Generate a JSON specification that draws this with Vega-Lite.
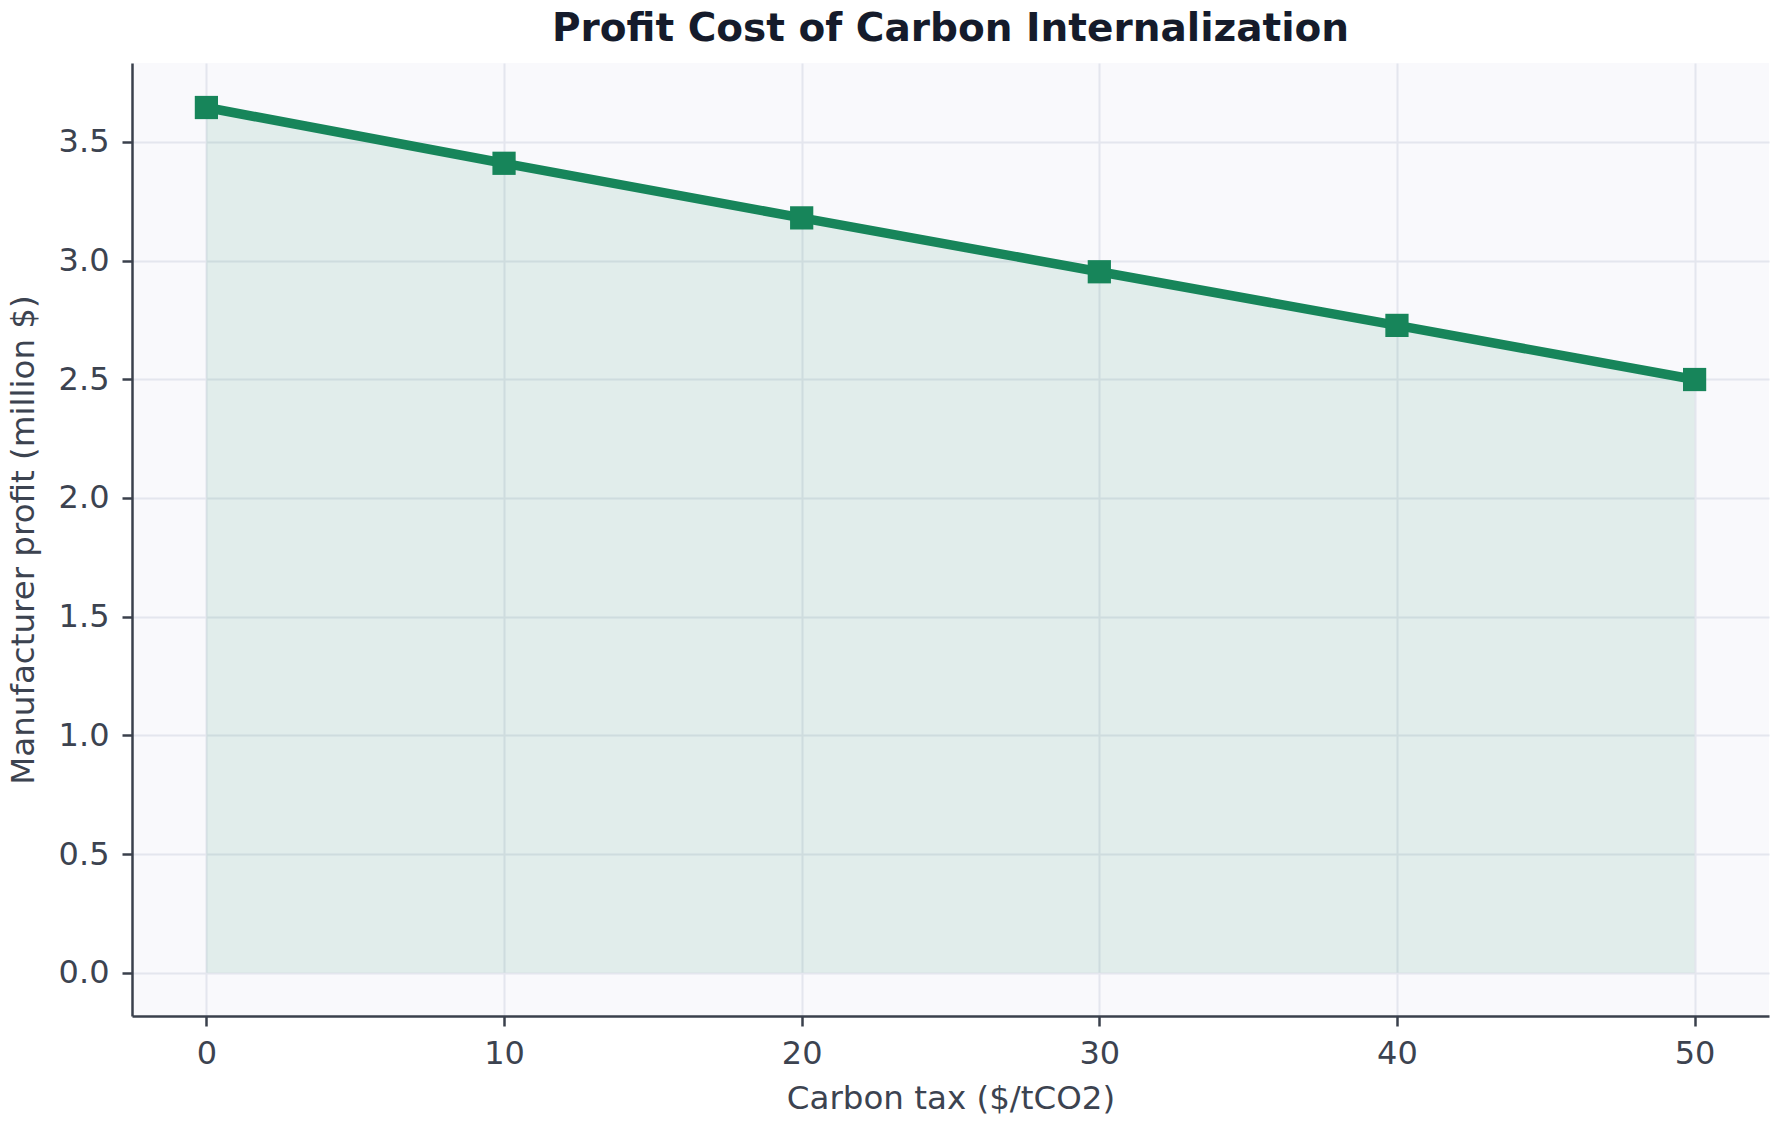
{
  "$schema": "https://vega.github.io/schema/vega-lite/v6.json",
  "width": 1637,
  "height": 953,
  "autosize": {"type": "none"},
  "padding": {"left": 132, "top": 63, "right": 15, "bottom": 109},
  "background": "#ffffff",
  "title": {
    "text": "Profit Cost of Carbon Internalization",
    "font": "DejaVu Sans",
    "fontSize": 39,
    "fontWeight": "bold",
    "color": "#151b2b",
    "anchor": "middle",
    "frame": "group",
    "baseline": "bottom",
    "offset": 12,
    "dy": 37
  },
  "config": {
    "view": {"fill": "#f9f9fc", "stroke": null},
    "font": "DejaVu Sans",
    "axis": {
      "labelFont": "DejaVu Sans",
      "titleFont": "DejaVu Sans",
      "labelFontSize": 32,
      "titleFontSize": 32.5,
      "labelColor": "#3c4350",
      "titleColor": "#3c4350",
      "titleFontWeight": "normal",
      "domainColor": "#3a404c",
      "domainWidth": 2.5,
      "tickColor": "#3a404c",
      "tickWidth": 2.5,
      "tickSize": 10,
      "gridColor": "#e4e6ee",
      "gridWidth": 2
    }
  },
  "data": {
    "values": [
      {"tax": 0, "profit": 3.645},
      {"tax": 10, "profit": 3.41},
      {"tax": 20, "profit": 3.18},
      {"tax": 30, "profit": 2.953},
      {"tax": 40, "profit": 2.727},
      {"tax": 50, "profit": 2.499}
    ]
  },
  "encoding": {
    "x": {
      "field": "tax",
      "type": "quantitative",
      "scale": {"domain": [-2.5, 52.5], "nice": false, "zero": false},
      "axis": {"values": [0, 10, 20, 30, 40, 50], "title": "Carbon tax ($/tCO2)", "labelPadding": 12, "titlePadding": 13, "labelFlush": false}
    },
    "y": {
      "field": "profit",
      "type": "quantitative",
      "scale": {"domain": [-0.1825, 3.8325], "nice": false, "zero": false},
      "axis": {"values": [0, 0.5, 1, 1.5, 2, 2.5, 3, 3.5], "format": ".1f", "title": "Manufacturer profit (million $)", "labelPadding": 13, "titlePadding": 18, "labelFlush": false}
    }
  },
  "layer": [
    {
      "mark": {"type": "area", "color": "#17855a", "opacity": 0.1},
      "encoding": {"y2": {"datum": 0}}
    },
    {
      "mark": {"type": "line", "color": "#17855a", "strokeWidth": 9.5, "strokeJoin": "round"}
    },
    {
      "mark": {"type": "point", "shape": "square", "filled": true, "color": "#17855a", "opacity": 1, "size": 540}
    }
  ]
}
